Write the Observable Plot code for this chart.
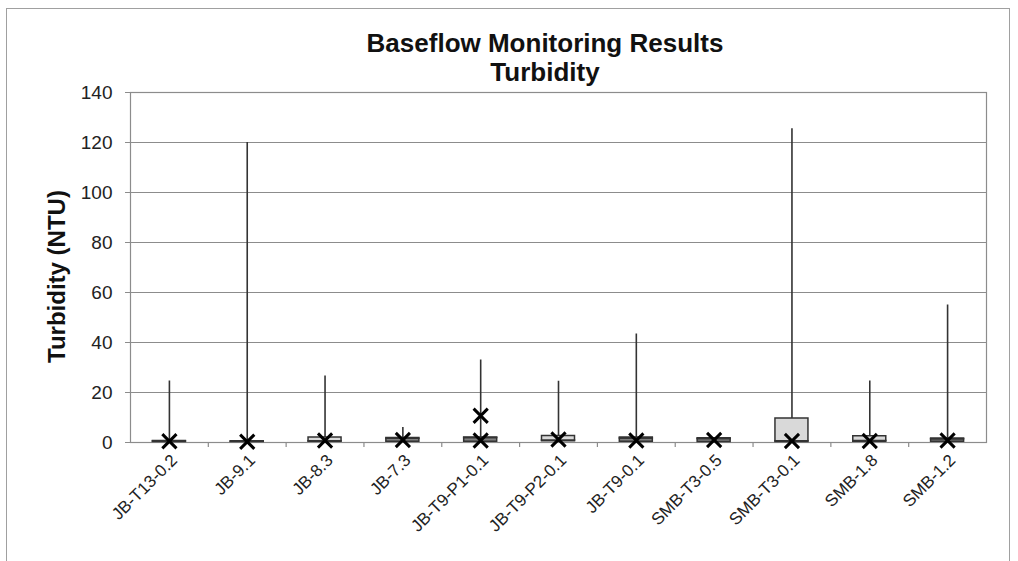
<!DOCTYPE html>
<html>
<head>
<meta charset="utf-8">
<script src="https://cdn.jsdelivr.net/npm/d3@7"></script>
<script src="https://cdn.jsdelivr.net/npm/@observablehq/plot@0.6"></script>
<style>
  body { margin: 0; background: #fff; font-family: "Liberation Sans", Arial, sans-serif; }
  #wrap { position: relative; width: 1018px; height: 561px; overflow: hidden; }
  #frame { position: absolute; left: 6px; top: 8px; width: 1004px; height: 600px; border: 1.5px solid #a0a0a0; box-sizing: border-box; }
  #title { position: absolute; left: 295px; width: 500px; top: 29px; text-align: center; font-weight: bold; font-size: 26px; line-height: 29px; color: #111; z-index: 2; }
  #chart { position: absolute; left: 0; top: 0; }
</style>
</head>
<body>
<div id="wrap">
  <div id="frame"></div>
  <div id="title">Baseflow Monitoring Results<br>Turbidity</div>
  <div id="chart"></div>
</div>
<script>
// Monitoring sites along the x axis
const sites = ["JB-T13-0.2", "JB-9.1", "JB-8.3", "JB-7.3", "JB-T9-P1-0.1", "JB-T9-P2-0.1",
               "JB-T9-0.1", "SMB-T3-0.5", "SMB-T3-0.1", "SMB-1.8", "SMB-1.2"];

// Five-number summary of turbidity (NTU) per site
const minValues    = [0,   0,   0,   0,   0,   0,   0,   0,   0,   0,   0];
const q1Values     = [0.2, 0.2, 0.3, 0.3, 0.3, 0.5, 0.3, 0.2, 0.2, 0.3, 0.3];
const medianValues = [0.4, 0.3, 0.5, 1.5, 1.8, 0.8, 1.6, 1.4, 0.5, 0.6, 1.3];
const q3Values     = [0.6, 0.5, 2.0, 1.8, 2.0, 2.6, 2.0, 1.7, 9.6, 2.5, 1.6];
const maxValues    = [24.6, 120, 26.6, 6, 33, 24.5, 43.4, 2, 125.5, 24.6, 55];

// X markers
const markerSites  = ["JB-T13-0.2", "JB-9.1", "JB-8.3", "JB-7.3", "JB-T9-P1-0.1", "JB-T9-P1-0.1",
                      "JB-T9-P2-0.1", "JB-T9-0.1", "SMB-T3-0.5", "SMB-T3-0.1", "SMB-1.8", "SMB-1.2"];
const markerValues = [0.5, 0.3, 0.8, 1.0, 0.8, 10.7, 1.2, 0.8, 1.0, 0.6, 0.6, 0.8];

// y axis ticks
const yTicks = [0, 20, 40, 60, 80, 100, 120, 140];

const rows = sites.map((site, i) => ({
  site, min: minValues[i], q1: q1Values[i], median: medianValues[i], q3: q3Values[i], max: maxValues[i]
}));
const markers = markerSites.map((site, i) => ({site, value: markerValues[i]}));

const width = 1018, height = 561;
const marginLeft = 130, marginRight = 32, marginTop = 92, marginBottom = 119;
const band = (width - marginLeft - marginRight) / sites.length;
const boxInset = (band - 33) / 2;

const chart = Plot.plot({
  width, height, marginLeft, marginRight, marginTop, marginBottom,
  style: {fontFamily: "'Liberation Sans', Arial, sans-serif", color: "#222", background: "transparent"},
  x: {domain: sites, padding: 0, round: false, axis: null},
  y: {domain: [0, 140]},
  marks: [
    Plot.gridY(yTicks, {stroke: "#8c8c8c", strokeOpacity: 1, strokeWidth: 1.2}),
    Plot.frame({stroke: "#8c8c8c", strokeWidth: 1.2}),
    // category separator ticks below the baseline
    Plot.ruleX(sites.slice(0, -1), {x: d => d, dx: band / 2, y1: 0, y2: -2, stroke: "#8c8c8c", strokeWidth: 1.2}),
    Plot.axisY(yTicks, {tickSize: 5, tickPadding: 13, fontSize: 19, label: null, stroke: "#8c8c8c"}),
    // site names, slanted under each box
    Plot.text(sites, {x: d => d, frameAnchor: "bottom", text: d => d, rotate: -45, textAnchor: "end",
      lineAnchor: "middle", dx: 5, dy: 15, fontSize: 17, fill: "#222"}),
    Plot.text([0], {frameAnchor: "left", text: () => "Turbidity (NTU)", rotate: -90, textAnchor: "middle",
      lineAnchor: "middle", dx: -73, dy: 9, fontSize: 24, fontWeight: "bold", fill: "#111"}),
    // whiskers: min to max
    Plot.ruleX(rows, {x: "site", y1: "min", y2: "max", stroke: "#333", strokeWidth: 1.6}),
    // lower box: Q1 to median
    Plot.barY(rows, {x: "site", y1: "q1", y2: "median", fill: "#7f7f7f", stroke: "#333",
      strokeWidth: 1.5, insetLeft: boxInset, insetRight: boxInset}),
    // upper box: median to Q3
    Plot.barY(rows, {x: "site", y1: "median", y2: "q3", fill: "#d9d9d9", stroke: "#333",
      strokeWidth: 1.5, insetLeft: boxInset, insetRight: boxInset}),
    Plot.dot(markers, {x: "site", y: "value", symbol: "times", r: 6.5, stroke: "#000", strokeWidth: 3})
  ]
});
document.getElementById("chart").appendChild(chart);
</script>
</body>
</html>
